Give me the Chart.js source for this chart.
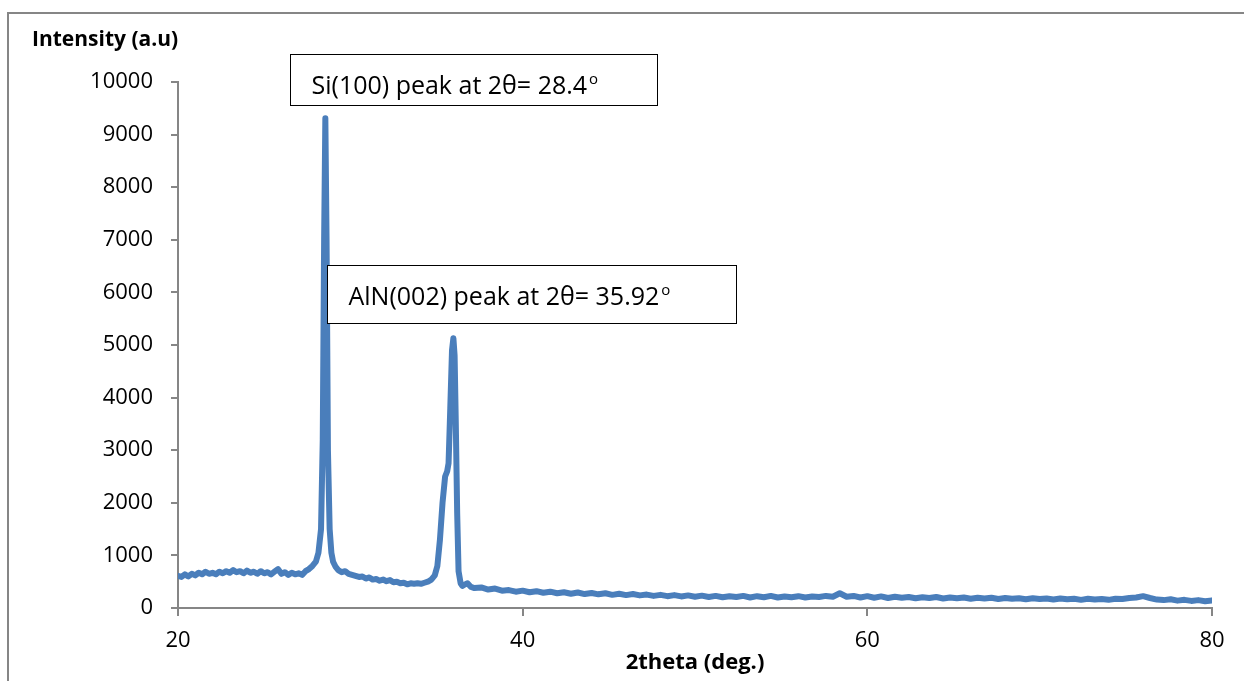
<!DOCTYPE html>
<html>
<head>
<meta charset="utf-8">
<script src="https://cdn.jsdelivr.net/npm/chart.js@4.4.1/dist/chart.umd.min.js"></script>
<style>
  html, body { margin: 0; padding: 0; background: #fff; }
  #wrap { width: 1244px; height: 681px; }
</style>
</head>
<body>
<div id="wrap"><canvas id="xrd" width="1244" height="681"></canvas></div>
<script>
// 2theta positions (deg.)
const twoTheta = [
  20.0, 20.2, 20.4, 20.6, 20.8, 21.0, 21.2, 21.4, 21.6, 21.8,
  22.0, 22.2, 22.4, 22.6, 22.8, 23.0, 23.2, 23.4, 23.6, 23.8,
  24.0, 24.2, 24.4, 24.6, 24.8, 25.0, 25.2, 25.4, 25.6, 25.8,
  26.0, 26.2, 26.4, 26.6, 26.8, 27.0, 27.2, 27.4, 27.6,
  27.8, 28.0, 28.15, 28.3, 28.4, 28.48, 28.55, 28.62, 28.7, 28.8, 28.9, 29.0, 29.15,
  29.3, 29.5, 29.7, 29.9, 30.1, 30.3, 30.5, 30.7, 30.9, 31.1,
  31.3, 31.5, 31.7, 31.9, 32.1, 32.3, 32.5, 32.7, 32.9, 33.1,
  33.3, 33.5, 33.7, 33.9, 34.1, 34.3, 34.5, 34.7,
  34.9, 35.05, 35.2, 35.35, 35.5, 35.62, 35.7, 35.8, 35.9, 35.98,
  36.05, 36.12, 36.2, 36.28, 36.4, 36.5, 36.6, 36.8, 37.0,
  37.2, 37.6, 38.0, 38.4, 38.8, 39.2, 39.6, 40.0, 40.4, 40.8,
  41.2, 41.6, 42.0, 42.4, 42.8, 43.2, 43.6, 44.0, 44.4, 44.8,
  45.2, 45.6, 46.0, 46.4, 46.8, 47.2, 47.6, 48.0, 48.4, 48.8,
  49.2, 49.6, 50.0, 50.4, 50.8, 51.2, 51.6, 52.0, 52.4, 52.8,
  53.2, 53.6, 54.0, 54.4, 54.8, 55.2, 55.6, 56.0, 56.4, 56.8,
  57.2, 57.6, 58.0, 58.4, 58.8, 59.2, 59.6, 60.0, 60.4, 60.8,
  61.2, 61.6, 62.0, 62.4, 62.8, 63.2, 63.6, 64.0, 64.4, 64.8,
  65.2, 65.6, 66.0, 66.4, 66.8, 67.2, 67.6, 68.0, 68.4, 68.8,
  69.2, 69.6, 70.0, 70.4, 70.8, 71.2, 71.6, 72.0, 72.4, 72.8,
  73.2, 73.6, 74.0, 74.4, 74.8, 75.2, 75.6, 76.0, 76.4, 76.8,
  77.2, 77.6, 78.0, 78.4, 78.8, 79.2, 79.6, 80.0
];

// Intensity (a.u.) at each position
const intensity = [
  610, 590, 640, 600, 650, 620, 670, 640, 690, 650,
  670, 640, 690, 660, 700, 670, 720, 680, 700, 660,
  710, 670, 690, 650, 700, 660, 680, 640, 690, 740,
  650, 680, 630, 670, 640, 660, 630, 700, 740,
  800, 880, 1050, 1500, 3200, 7000, 9310, 7000, 3000, 1500, 1050, 880, 780,
  720, 680, 700, 650, 630, 610, 590, 600, 560, 580,
  540, 550, 520, 540, 510, 530, 490, 500, 470, 480,
  450, 470, 460, 470, 460, 480, 500, 540,
  620, 800, 1300, 2000, 2500, 2600, 2750, 3800, 4900, 5130,
  4800, 3500, 1800, 700, 470, 420, 440, 470, 400,
  380, 390, 350, 370, 330, 340, 310, 330, 300, 320,
  290, 310, 280, 300, 270, 295, 265, 285, 260, 280,
  250, 270, 245, 265, 240, 255, 230, 250, 225, 245,
  220, 240, 215, 235, 210, 230, 205, 225, 210, 230,
  200, 225, 205, 230, 200, 220, 205, 225, 200, 220,
  210, 230, 215, 280, 215, 230, 200, 225, 195, 220,
  190, 215, 195, 210, 185, 205, 190, 210, 180, 200,
  185, 200, 175, 195, 180, 195, 170, 190, 175, 185,
  165, 185, 170, 180, 160, 180, 165, 175, 155, 175,
  160, 170, 155, 175, 170, 190, 200, 225, 190, 160,
  150, 165, 140, 155, 135, 150, 130, 145
];

const yAxisTitle = "Intensity (a.u)";
const xAxisTitle = "2theta (deg.)";

// peak call-outs: text, then the box corners in axis units
const peakNotes = [
  { text: "Si(100) peak at 2\u03b8= 28.4", x1: 26.5, x2: 47.8, yTop: 10530, yBottom: 9565 },
  { text: "AlN(002) peak at 2\u03b8= 35.92", x1: 28.65, x2: 52.38, yTop: 6521, yBottom: 5418 }
];

const FONT = "'Open Sans', 'Liberation Sans', sans-serif";
const AXIS_GREY = "#868686";

const frameAndNotes = {
  id: "frameAndNotes",
  beforeDraw(chart) {
    const ctx = chart.ctx;
    ctx.save();
    ctx.fillStyle = "#fff";
    ctx.fillRect(0, 0, chart.width, chart.height);
    ctx.strokeStyle = AXIS_GREY;
    ctx.lineWidth = 2;
    ctx.strokeRect(8, 13, chart.width + 20, chart.height + 20);
    ctx.restore();
  },
  afterDraw(chart) {
    const ctx = chart.ctx;
    const xs = chart.scales.x, ys = chart.scales.y;
    ctx.save();
    // y-axis title sits above the axis, horizontal
    ctx.fillStyle = "#000";
    ctx.font = "bold 21px " + FONT;
    ctx.textBaseline = "alphabetic";
    ctx.textAlign = "left";
    ctx.fillText(yAxisTitle, 32, 46);

    peakNotes.forEach(n => {
      const l = Math.round(xs.getPixelForValue(n.x1)) + 0.5;
      const r = Math.round(xs.getPixelForValue(n.x2)) + 0.5;
      const t = Math.round(ys.getPixelForValue(n.yTop)) + 0.5;
      const b = Math.round(ys.getPixelForValue(n.yBottom)) + 0.5;
      ctx.fillStyle = "#fff";
      ctx.fillRect(l, t, r - l, b - t);
      ctx.strokeStyle = "#000";
      ctx.lineWidth = 1;
      ctx.strokeRect(l, t, r - l, b - t);
      ctx.fillStyle = "#000";
      ctx.font = "25px " + FONT;
      const tx = l + 21, ty = t + 39;
      ctx.fillText(n.text, tx, ty);
      const w = ctx.measureText(n.text).width;
      ctx.font = "15px " + FONT;
      ctx.fillText("o", tx + w + 2, ty - 10);
    });
    ctx.restore();
  }
};

const points = twoTheta.map((t, i) => ({ x: t, y: intensity[i] }));

new Chart(document.getElementById("xrd"), {
  type: "line",
  data: {
    datasets: [{
      data: points,
      borderColor: "#4a7ebb",
      borderWidth: 6,
      pointRadius: 0,
      tension: 0,
      borderJoinStyle: "round",
      borderCapStyle: "round",
      fill: false
    }]
  },
  options: {
    responsive: false,
    animation: false,
    layout: { padding: { top: 82, right: 32, left: 0, bottom: 0 } },
    plugins: { legend: { display: false }, tooltip: { enabled: false } },
    scales: {
      x: {
        type: "linear",
        min: 20,
        max: 80,
        afterFit: s => { s.height = 73; },
        ticks: { stepSize: 20, padding: 12, color: "#000", font: { family: FONT, size: 22 } },
        grid: { drawOnChartArea: false, tickLength: 8, color: AXIS_GREY, lineWidth: 2 },
        border: { color: AXIS_GREY, width: 2 },
        title: {
          display: true,
          text: xAxisTitle,
          color: "#000",
          font: { family: FONT, size: 22, weight: "bold" },
          padding: { top: 0, bottom: 5 }
        }
      },
      y: {
        min: 0,
        max: 10000,
        afterFit: s => { s.width = 178; },
        ticks: {
          stepSize: 1000,
          padding: 18,
          color: "#000",
          font: { family: FONT, size: 22 },
          callback: v => String(v)
        },
        grid: { drawOnChartArea: false, tickLength: 7, color: AXIS_GREY, lineWidth: 2 },
        border: { color: AXIS_GREY, width: 2 }
      }
    }
  },
  plugins: [frameAndNotes]
});
</script>
</body>
</html>
